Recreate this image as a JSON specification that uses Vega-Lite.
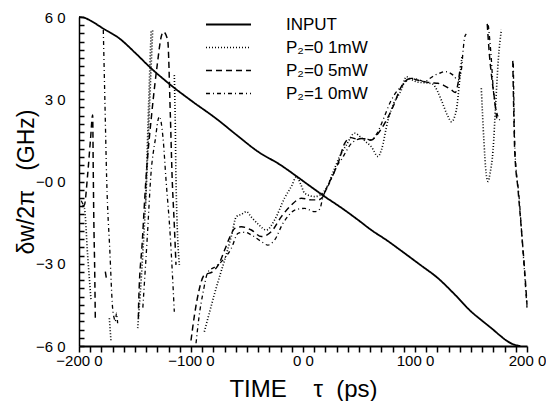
{
  "$schema": "https://vega.github.io/schema/vega-lite/v6.json",
  "padding": {"left": 15, "top": 10, "right": 0, "bottom": 0},
  "background": "white",
  "config": {"view": {"stroke": null}, "font": "Liberation Sans"},
  "data": {"values": [
    {"s":"INPUT","g":"i","x":-200,"y":6.0},{"s":"INPUT","g":"i","x":-195,"y":5.97},{"s":"INPUT","g":"i","x":-189,"y":5.85},{"s":"INPUT","g":"i","x":-178.8,"y":5.59},{"s":"INPUT","g":"i","x":-164,"y":5.22},{"s":"INPUT","g":"i","x":-150,"y":4.7},{"s":"INPUT","g":"i","x":-137.2,"y":4.19},{"s":"INPUT","g":"i","x":-116.3,"y":3.46},{"s":"INPUT","g":"i","x":-98.5,"y":2.91},{"s":"INPUT","g":"i","x":-77.7,"y":2.30},{"s":"INPUT","g":"i","x":-60,"y":1.72},{"s":"INPUT","g":"i","x":-40.2,"y":1.09},{"s":"INPUT","g":"i","x":-20,"y":0.6},{"s":"INPUT","g":"i","x":-7.4,"y":0.24},{"s":"INPUT","g":"i","x":5,"y":-0.13},{"s":"INPUT","g":"i","x":19.4,"y":-0.55},{"s":"INPUT","g":"i","x":35,"y":-0.98},{"s":"INPUT","g":"i","x":49.1,"y":-1.40},{"s":"INPUT","g":"i","x":61,"y":-1.77},{"s":"INPUT","g":"i","x":75,"y":-2.15},{"s":"INPUT","g":"i","x":90.8,"y":-2.62},{"s":"INPUT","g":"i","x":105,"y":-3.05},{"s":"INPUT","g":"i","x":120.6,"y":-3.53},{"s":"INPUT","g":"i","x":135,"y":-4.1},{"s":"INPUT","g":"i","x":150.3,"y":-4.75},{"s":"INPUT","g":"i","x":160,"y":-5.08},{"s":"INPUT","g":"i","x":168.2,"y":-5.35},{"s":"INPUT","g":"i","x":176,"y":-5.62},{"s":"INPUT","g":"i","x":183,"y":-5.84},{"s":"INPUT","g":"i","x":190,"y":-5.97},{"s":"INPUT","g":"i","x":194,"y":-6.0},

    {"s":"P₂=0 1mW","g":"d1","x":-197,"y":-0.9},{"s":"P₂=0 1mW","g":"d1","x":-195.2,"y":-0.98},{"s":"P₂=0 1mW","g":"d1","x":-192.3,"y":-2.68},{"s":"P₂=0 1mW","g":"d1","x":-189.3,"y":-4.32},
    {"s":"P₂=0 1mW","g":"d2","x":-172.9,"y":-4.99},{"s":"P₂=0 1mW","g":"d2","x":-171.4,"y":-5.84},
    {"s":"P₂=0 1mW","g":"d3","x":-147.6,"y":-5.35},{"s":"P₂=0 1mW","g":"d3","x":-143,"y":-2.6},{"s":"P₂=0 1mW","g":"d3","x":-139.5,"y":0.15},{"s":"P₂=0 1mW","g":"d3","x":-136.8,"y":3.0},{"s":"P₂=0 1mW","g":"d3","x":-134.2,"y":5.53},
    {"s":"P₂=0 1mW","g":"d4","x":-140.5,"y":-0.8},{"s":"P₂=0 1mW","g":"d4","x":-138.3,"y":2.2},{"s":"P₂=0 1mW","g":"d4","x":-135.6,"y":5.5},
    {"s":"P₂=0 1mW","g":"d5","x":-114.9,"y":3.88},{"s":"P₂=0 1mW","g":"d5","x":-114,"y":2.0},{"s":"P₂=0 1mW","g":"d5","x":-113.4,"y":0.06},{"s":"P₂=0 1mW","g":"d5","x":-110.4,"y":-3.04},
    {"s":"P₂=0 1mW","g":"d6","x":-88.1,"y":-5.48},{"s":"P₂=0 1mW","g":"d6","x":-83,"y":-4.7},{"s":"P₂=0 1mW","g":"d6","x":-78.9,"y":-4.08},{"s":"P₂=0 1mW","g":"d6","x":-74,"y":-3.4},{"s":"P₂=0 1mW","g":"d6","x":-69.9,"y":-2.86},{"s":"P₂=0 1mW","g":"d6","x":-64,"y":-2.0},{"s":"P₂=0 1mW","g":"d6","x":-59.5,"y":-1.28},{"s":"P₂=0 1mW","g":"d6","x":-55,"y":-1.2},{"s":"P₂=0 1mW","g":"d6","x":-50.6,"y":-1.1},{"s":"P₂=0 1mW","g":"d6","x":-46.1,"y":-1.3},{"s":"P₂=0 1mW","g":"d6","x":-40.2,"y":-1.55},{"s":"P₂=0 1mW","g":"d6","x":-32.7,"y":-1.77},{"s":"P₂=0 1mW","g":"d6","x":-25.3,"y":-1.4},{"s":"P₂=0 1mW","g":"d6","x":-16.4,"y":-0.6},{"s":"P₂=0 1mW","g":"d6","x":-10,"y":-0.15},{"s":"P₂=0 1mW","g":"d6","x":-5.9,"y":0.18},{"s":"P₂=0 1mW","g":"d6","x":-2,"y":-0.1},{"s":"P₂=0 1mW","g":"d6","x":1.5,"y":-0.43},{"s":"P₂=0 1mW","g":"d6","x":10.4,"y":-0.55},{"s":"P₂=0 1mW","g":"d6","x":15,"y":-0.5},{"s":"P₂=0 1mW","g":"d6","x":22.3,"y":-0.13},{"s":"P₂=0 1mW","g":"d6","x":27,"y":0.35},{"s":"P₂=0 1mW","g":"d6","x":32.7,"y":0.91},{"s":"P₂=0 1mW","g":"d6","x":39,"y":1.35},{"s":"P₂=0 1mW","g":"d6","x":46.1,"y":1.76},{"s":"P₂=0 1mW","g":"d6","x":52,"y":1.6},{"s":"P₂=0 1mW","g":"d6","x":56,"y":1.45},{"s":"P₂=0 1mW","g":"d6","x":61,"y":1.27},{"s":"P₂=0 1mW","g":"d6","x":67,"y":0.91},{"s":"P₂=0 1mW","g":"d6","x":70,"y":1.15},{"s":"P₂=0 1mW","g":"d6","x":75.9,"y":2.24},{"s":"P₂=0 1mW","g":"d6","x":81,"y":2.85},{"s":"P₂=0 1mW","g":"d6","x":87.8,"y":3.34},{"s":"P₂=0 1mW","g":"d6","x":92.3,"y":3.82},{"s":"P₂=0 1mW","g":"d6","x":97,"y":3.72},{"s":"P₂=0 1mW","g":"d6","x":103,"y":3.62},{"s":"P₂=0 1mW","g":"d6","x":110,"y":3.6},{"s":"P₂=0 1mW","g":"d6","x":116,"y":3.55},{"s":"P₂=0 1mW","g":"d6","x":120,"y":3.3},{"s":"P₂=0 1mW","g":"d6","x":123.5,"y":2.97},{"s":"P₂=0 1mW","g":"d6","x":129.5,"y":2.37},{"s":"P₂=0 1mW","g":"d6","x":132.5,"y":2.18},{"s":"P₂=0 1mW","g":"d6","x":136.9,"y":2.61},{"s":"P₂=0 1mW","g":"d6","x":139.9,"y":3.7},{"s":"P₂=0 1mW","g":"d6","x":142,"y":4.6},
    {"s":"P₂=0 1mW","g":"d7","x":159.2,"y":3.4},{"s":"P₂=0 1mW","g":"d7","x":161.5,"y":1.5},{"s":"P₂=0 1mW","g":"d7","x":163.5,"y":0.3},{"s":"P₂=0 1mW","g":"d7","x":165.2,"y":0.0},{"s":"P₂=0 1mW","g":"d7","x":167,"y":0.3},{"s":"P₂=0 1mW","g":"d7","x":169.7,"y":1.15},{"s":"P₂=0 1mW","g":"d7","x":172,"y":2.8},{"s":"P₂=0 1mW","g":"d7","x":174.5,"y":4.5},{"s":"P₂=0 1mW","g":"d7","x":177.1,"y":5.53},

    {"s":"P₂=0 5mW","g":"a1","x":-197,"y":-0.9},{"s":"P₂=0 5mW","g":"a1","x":-195.2,"y":-0.86},{"s":"P₂=0 5mW","g":"a1","x":-192.3,"y":0.24},{"s":"P₂=0 5mW","g":"a1","x":-189.8,"y":1.5},{"s":"P₂=0 5mW","g":"a1","x":-187.8,"y":2.43},{"s":"P₂=0 5mW","g":"a1","x":-187.3,"y":0.5},{"s":"P₂=0 5mW","g":"a1","x":-186.8,"y":-1.3},{"s":"P₂=0 5mW","g":"a1","x":-186,"y":-3.2},{"s":"P₂=0 5mW","g":"a1","x":-185.4,"y":-5.11},
    {"s":"P₂=0 5mW","g":"a2","x":-176.5,"y":-3.29},{"s":"P₂=0 5mW","g":"a2","x":-175.3,"y":-3.6},
    {"s":"P₂=0 5mW","g":"a3","x":-147,"y":-5.0},{"s":"P₂=0 5mW","g":"a3","x":-146.7,"y":-4.38},{"s":"P₂=0 5mW","g":"a3","x":-143.5,"y":-2.2},{"s":"P₂=0 5mW","g":"a3","x":-140.2,"y":0.1},{"s":"P₂=0 5mW","g":"a3","x":-135,"y":2.5},{"s":"P₂=0 5mW","g":"a3","x":-130,"y":4.3},{"s":"P₂=0 5mW","g":"a3","x":-126.5,"y":5.3},{"s":"P₂=0 5mW","g":"a3","x":-124.7,"y":5.46},{"s":"P₂=0 5mW","g":"a3","x":-120.8,"y":5.16},{"s":"P₂=0 5mW","g":"a3","x":-118.5,"y":2.5},{"s":"P₂=0 5mW","g":"a3","x":-116.8,"y":0.1},{"s":"P₂=0 5mW","g":"a3","x":-115,"y":-1.5},{"s":"P₂=0 5mW","g":"a3","x":-113.4,"y":-3.04},
    {"s":"P₂=0 5mW","g":"a4","x":-100,"y":-5.8},{"s":"P₂=0 5mW","g":"a4","x":-97,"y":-4.9},{"s":"P₂=0 5mW","g":"a4","x":-93,"y":-4.0},{"s":"P₂=0 5mW","g":"a4","x":-88.1,"y":-3.41},{"s":"P₂=0 5mW","g":"a4","x":-80.7,"y":-3.29},{"s":"P₂=0 5mW","g":"a4","x":-75,"y":-3.0},{"s":"P₂=0 5mW","g":"a4","x":-70,"y":-2.5},{"s":"P₂=0 5mW","g":"a4","x":-65,"y":-2.0},{"s":"P₂=0 5mW","g":"a4","x":-61,"y":-1.71},{"s":"P₂=0 5mW","g":"a4","x":-55.1,"y":-1.65},{"s":"P₂=0 5mW","g":"a4","x":-46.1,"y":-1.77},{"s":"P₂=0 5mW","g":"a4","x":-37.2,"y":-2.01},{"s":"P₂=0 5mW","g":"a4","x":-28.3,"y":-1.83},{"s":"P₂=0 5mW","g":"a4","x":-19.3,"y":-1.28},{"s":"P₂=0 5mW","g":"a4","x":-10.4,"y":-0.86},{"s":"P₂=0 5mW","g":"a4","x":-1.5,"y":-0.61},{"s":"P₂=0 5mW","g":"a4","x":7.4,"y":-0.67},{"s":"P₂=0 5mW","g":"a4","x":13.4,"y":-0.67},{"s":"P₂=0 5mW","g":"a4","x":17.9,"y":-0.55},{"s":"P₂=0 5mW","g":"a4","x":22,"y":-0.15},{"s":"P₂=0 5mW","g":"a4","x":26.8,"y":0.24},{"s":"P₂=0 5mW","g":"a4","x":32,"y":0.75},{"s":"P₂=0 5mW","g":"a4","x":37.2,"y":1.39},{"s":"P₂=0 5mW","g":"a4","x":43,"y":1.6},{"s":"P₂=0 5mW","g":"a4","x":48,"y":1.55},{"s":"P₂=0 5mW","g":"a4","x":52.1,"y":1.57},{"s":"P₂=0 5mW","g":"a4","x":61,"y":1.51},{"s":"P₂=0 5mW","g":"a4","x":66,"y":1.7},{"s":"P₂=0 5mW","g":"a4","x":72.9,"y":2.12},{"s":"P₂=0 5mW","g":"a4","x":80.4,"y":2.73},{"s":"P₂=0 5mW","g":"a4","x":87.8,"y":3.46},{"s":"P₂=0 5mW","g":"a4","x":90.8,"y":3.64},{"s":"P₂=0 5mW","g":"a4","x":96.7,"y":3.76},{"s":"P₂=0 5mW","g":"a4","x":102,"y":3.7},{"s":"P₂=0 5mW","g":"a4","x":108.6,"y":3.64},{"s":"P₂=0 5mW","g":"a4","x":114,"y":3.6},{"s":"P₂=0 5mW","g":"a4","x":120.5,"y":3.58},{"s":"P₂=0 5mW","g":"a4","x":126,"y":3.5},{"s":"P₂=0 5mW","g":"a4","x":132.5,"y":3.34},{"s":"P₂=0 5mW","g":"a4","x":136,"y":3.25},{"s":"P₂=0 5mW","g":"a4","x":138.5,"y":3.6},{"s":"P₂=0 5mW","g":"a4","x":140.5,"y":4.2},
    {"s":"P₂=0 5mW","g":"a5","x":164.5,"y":5.75},{"s":"P₂=0 5mW","g":"a5","x":166.5,"y":4.6},{"s":"P₂=0 5mW","g":"a5","x":168.5,"y":3.8},{"s":"P₂=0 5mW","g":"a5","x":171,"y":3.0},{"s":"P₂=0 5mW","g":"a5","x":173,"y":2.3},
    {"s":"P₂=0 5mW","g":"a6","x":187.3,"y":4.4},{"s":"P₂=0 5mW","g":"a6","x":188.2,"y":2.5},{"s":"P₂=0 5mW","g":"a6","x":189,"y":1.15},{"s":"P₂=0 5mW","g":"a6","x":192,"y":-0.3},{"s":"P₂=0 5mW","g":"a6","x":195,"y":-1.75},{"s":"P₂=0 5mW","g":"a6","x":198,"y":-3.3},{"s":"P₂=0 5mW","g":"a6","x":200,"y":-4.5},

    {"s":"P₂=1 0mW","g":"b0","x":-198,"y":-0.7},{"s":"P₂=1 0mW","g":"b0","x":-195.5,"y":-0.9},
    {"s":"P₂=1 0mW","g":"b1","x":-178.3,"y":5.53},{"s":"P₂=1 0mW","g":"b1","x":-176.8,"y":2.8},{"s":"P₂=1 0mW","g":"b1","x":-175.3,"y":0.1},{"s":"P₂=1 0mW","g":"b1","x":-172.5,"y":-2.5},{"s":"P₂=1 0mW","g":"b1","x":-170,"y":-4.62},{"s":"P₂=1 0mW","g":"b1","x":-168.5,"y":-5.0},{"s":"P₂=1 0mW","g":"b1","x":-167.6,"y":-5.11},{"s":"P₂=1 0mW","g":"b1","x":-166.5,"y":-4.8},{"s":"P₂=1 0mW","g":"b1","x":-165.5,"y":-5.17},
    {"s":"P₂=1 0mW","g":"b2","x":-143,"y":-4.6},{"s":"P₂=1 0mW","g":"b2","x":-139,"y":-2.0},{"s":"P₂=1 0mW","g":"b2","x":-135.7,"y":0.3},{"s":"P₂=1 0mW","g":"b2","x":-132,"y":1.5},{"s":"P₂=1 0mW","g":"b2","x":-128.3,"y":2.37},{"s":"P₂=1 0mW","g":"b2","x":-125,"y":1.6},{"s":"P₂=1 0mW","g":"b2","x":-122.3,"y":0.06},{"s":"P₂=1 0mW","g":"b2","x":-118.5,"y":-2.0},{"s":"P₂=1 0mW","g":"b2","x":-114.9,"y":-4.75},
    {"s":"P₂=1 0mW","g":"b3","x":-95.5,"y":-5.9},{"s":"P₂=1 0mW","g":"b3","x":-93,"y":-4.99},{"s":"P₂=1 0mW","g":"b3","x":-89,"y":-4.0},{"s":"P₂=1 0mW","g":"b3","x":-84.8,"y":-3.29},{"s":"P₂=1 0mW","g":"b3","x":-78,"y":-3.1},{"s":"P₂=1 0mW","g":"b3","x":-71.4,"y":-2.86},{"s":"P₂=1 0mW","g":"b3","x":-64,"y":-2.44},{"s":"P₂=1 0mW","g":"b3","x":-58,"y":-1.89},{"s":"P₂=1 0mW","g":"b3","x":-52,"y":-1.85},{"s":"P₂=1 0mW","g":"b3","x":-46.1,"y":-1.95},{"s":"P₂=1 0mW","g":"b3","x":-37.2,"y":-2.19},{"s":"P₂=1 0mW","g":"b3","x":-31.3,"y":-2.32},{"s":"P₂=1 0mW","g":"b3","x":-25.3,"y":-2.13},{"s":"P₂=1 0mW","g":"b3","x":-17.8,"y":-1.52},{"s":"P₂=1 0mW","g":"b3","x":-12,"y":-1.2},{"s":"P₂=1 0mW","g":"b3","x":-7.4,"y":-1.04},{"s":"P₂=1 0mW","g":"b3","x":1.5,"y":-0.98},{"s":"P₂=1 0mW","g":"b3","x":10.4,"y":-1.1},{"s":"P₂=1 0mW","g":"b3","x":14.9,"y":-1.01},{"s":"P₂=1 0mW","g":"b3","x":17.9,"y":-0.55},{"s":"P₂=1 0mW","g":"b3","x":22,"y":-0.2},{"s":"P₂=1 0mW","g":"b3","x":26.8,"y":0.24},{"s":"P₂=1 0mW","g":"b3","x":30,"y":0.55},{"s":"P₂=1 0mW","g":"b3","x":34.2,"y":0.79},{"s":"P₂=1 0mW","g":"b3","x":38.5,"y":1.1},{"s":"P₂=1 0mW","g":"b3","x":43.2,"y":1.39},{"s":"P₂=1 0mW","g":"b3","x":47,"y":1.5},{"s":"P₂=1 0mW","g":"b3","x":52.1,"y":1.57},{"s":"P₂=1 0mW","g":"b3","x":57,"y":1.55},{"s":"P₂=1 0mW","g":"b3","x":61,"y":1.51},{"s":"P₂=1 0mW","g":"b3","x":66,"y":1.75},{"s":"P₂=1 0mW","g":"b3","x":72,"y":2.3},{"s":"P₂=1 0mW","g":"b3","x":78,"y":2.9},{"s":"P₂=1 0mW","g":"b3","x":84,"y":3.3},{"s":"P₂=1 0mW","g":"b3","x":87.8,"y":3.46},{"s":"P₂=1 0mW","g":"b3","x":92,"y":3.65},{"s":"P₂=1 0mW","g":"b3","x":96.7,"y":3.76},{"s":"P₂=1 0mW","g":"b3","x":103,"y":3.72},{"s":"P₂=1 0mW","g":"b3","x":108.6,"y":3.64},{"s":"P₂=1 0mW","g":"b3","x":113,"y":3.75},{"s":"P₂=1 0mW","g":"b3","x":117.6,"y":3.88},{"s":"P₂=1 0mW","g":"b3","x":122,"y":3.95},{"s":"P₂=1 0mW","g":"b3","x":126.5,"y":4.01},{"s":"P₂=1 0mW","g":"b3","x":130,"y":3.98},{"s":"P₂=1 0mW","g":"b3","x":134,"y":3.88},{"s":"P₂=1 0mW","g":"b3","x":138.4,"y":3.7},{"s":"P₂=1 0mW","g":"b3","x":141.4,"y":4.07},{"s":"P₂=1 0mW","g":"b3","x":143,"y":4.8},{"s":"P₂=1 0mW","g":"b3","x":144.4,"y":5.28},{"s":"P₂=1 0mW","g":"b3","x":145.8,"y":5.38},
    {"s":"P₂=1 0mW","g":"b4","x":165.5,"y":5.7},{"s":"P₂=1 0mW","g":"b4","x":168.2,"y":4.43},{"s":"P₂=1 0mW","g":"b4","x":169.7,"y":3.46},{"s":"P₂=1 0mW","g":"b4","x":172.6,"y":2.6},{"s":"P₂=1 0mW","g":"b4","x":175.6,"y":2.24},
    {"s":"P₂=1 0mW","g":"b5","x":187.8,"y":4.3},{"s":"P₂=1 0mW","g":"b5","x":189.2,"y":1.2},{"s":"P₂=1 0mW","g":"b5","x":193,"y":-0.6},{"s":"P₂=1 0mW","g":"b5","x":196,"y":-2.3},{"s":"P₂=1 0mW","g":"b5","x":200,"y":-4.6}
  ]},
  "hconcat": [
    {
      "width": 448,
      "height": 329,
      "mark": {"type": "line", "color": "black", "interpolate": "monotone"},
      "encoding": {
        "x": {
          "field": "x", "type": "quantitative",
          "scale": {"domain": [-200, 200], "nice": false, "zero": false},
          "axis": {
            "title": "TIME\u00a0\u00a0\u00a0\u00a0τ\u00a0\u00a0(ps)",
            "titleFontSize": 24, "titlePadding": 9, "titleColor": "black", "titleFontWeight": "normal", "titleFont": "Liberation Sans",
            "values": [-200,-190,-180,-170,-160,-150,-140,-130,-120,-110,-100,-90,-80,-70,-60,-50,-40,-30,-20,-10,0,10,20,30,40,50,60,70,80,90,100,110,120,130,140,150,160,170,180,190,200],
            "labelExpr": "datum.value % 100 == 0 ? replace(format(datum.value, '.1f'), '.', ' ') : ''",
            "labelOverlap": false, "labelFlush": false, "labelBound": false,
            "labelFontSize": 15, "labelPadding": 1, "labelColor": "black", "labelFont": "Liberation Sans",
            "grid": false, "domainColor": "black", "tickColor": "black",
            "tickSize": 6, "tickWidth": 1.5, "domainWidth": 2
          }
        },
        "y": {
          "field": "y", "type": "quantitative",
          "scale": {"domain": [-6, 6], "nice": false, "zero": false},
          "axis": {
            "title": "δw/2π\u00a0\u00a0\u00a0(GHz)",
            "titleFontSize": 23, "titlePadding": -3, "titleColor": "black", "titleFontWeight": "normal", "titleFont": "Liberation Sans",
            "values": [-6,-5.7,-5.4,-5.1,-4.8,-4.5,-4.2,-3.9,-3.6,-3.3,-3,-2.7,-2.4,-2.1,-1.8,-1.5,-1.2,-0.9,-0.6,-0.3,0,0.3,0.6,0.9,1.2,1.5,1.8,2.1,2.4,2.7,3,3.3,3.6,3.9,4.2,4.5,4.8,5.1,5.4,5.7,6],
            "labelExpr": "abs(datum.value) % 3 < 0.01 ? (datum.value == 0 ? '−0 0' : replace(format(datum.value, '.1f'), '.', ' ')) : ''",
            "labelOverlap": false, "labelFlush": false, "labelBound": false,
            "labelFontSize": 15, "labelPadding": 19, "labelColor": "black", "labelFont": "Liberation Sans",
            "grid": false, "domainColor": "black", "tickColor": "black",
            "tickSize": -5, "tickWidth": 1.5, "domainWidth": 1.5
          }
        },
        "strokeDash": {
          "field": "s", "type": "nominal",
          "scale": {"domain": ["INPUT", "P₂=0 1mW", "P₂=0 5mW", "P₂=1 0mW"], "range": [[1, 0], [1, 2], [6, 4], [4, 3, 1, 3]]},
          "legend": {
            "orient": "none", "legendX": 141, "legendY": -1, "title": null,
            "symbolType": "M-3,0H3", "symbolSize": 225, "symbolStrokeWidth": 1.5, "symbolStrokeColor": "black", "symbolFillColor": "transparent",
            "labelFont": "Liberation Sans", "labelFontSize": 17, "labelOffset": 49, "labelColor": "black",
            "rowPadding": 5, "padding": 0
          }
        },
        "strokeWidth": {
          "field": "s", "type": "nominal",
          "scale": {"domain": ["INPUT", "P₂=0 1mW", "P₂=0 5mW", "P₂=1 0mW"], "range": [1.8, 1.3, 1.4, 1.4]},
          "legend": null
        },
        "detail": {"field": "g", "type": "nominal"}
      }
    }
  ]
}
